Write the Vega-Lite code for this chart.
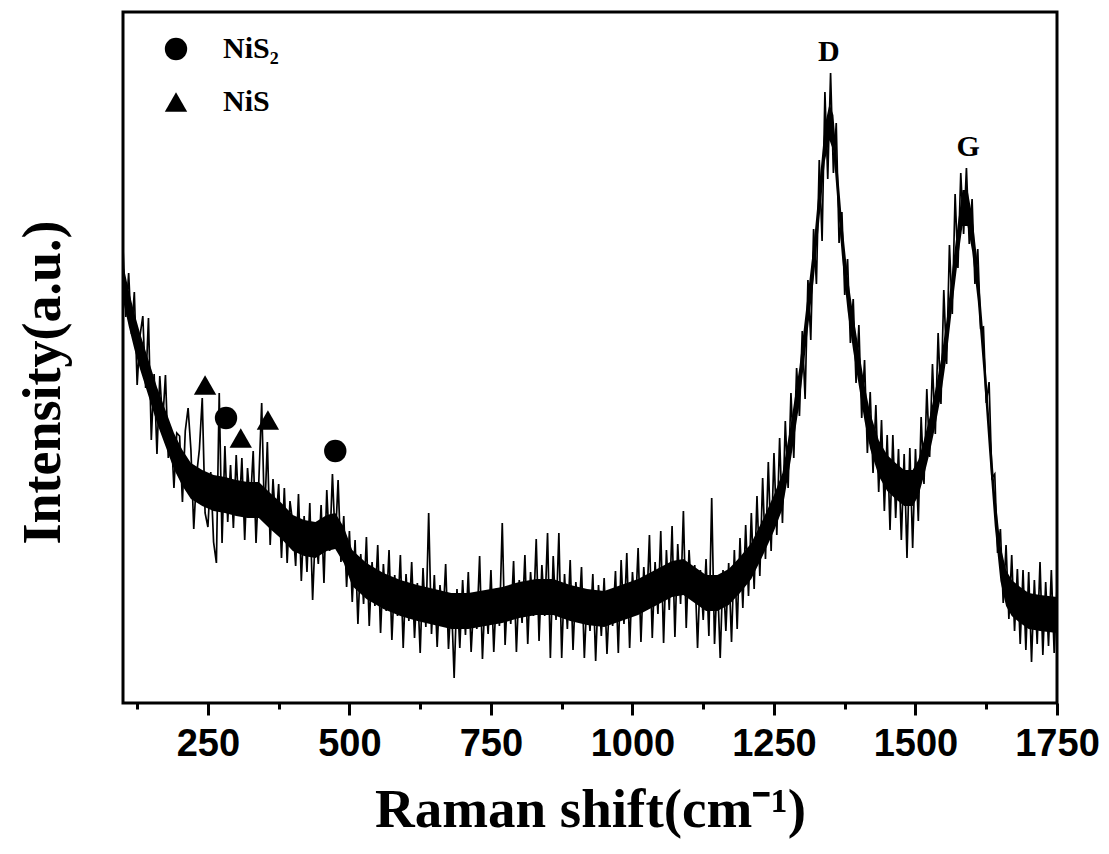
{
"$schema": "https://vega.github.io/schema/vega-lite/v6.json",
"width": 934, "height": 691,
"autosize": {"type": "none"},
"padding": {"left": 123, "top": 12, "right": 52, "bottom": 151},
"background": "white",
"config": {"view": {"stroke": "black", "strokeWidth": 3}, "axis": {"grid": false, "domain": false}},
"datasets": {
"core": [
{"shift":100,"lo":403,"hi":439},{"shift":110,"lo":377,"hi":413},{"shift":120,"lo":354,"hi":390},{"shift":130,"lo":334,"hi":370},{"shift":145,"lo":307,"hi":343},{"shift":160,"lo":280,"hi":316},{"shift":175,"lo":257,"hi":293},{"shift":190,"lo":234,"hi":270},{"shift":205,"lo":217,"hi":253},{"shift":220,"lo":204,"hi":240},
{"shift":240,"lo":197,"hi":233},{"shift":260,"lo":192,"hi":228},{"shift":280,"lo":190,"hi":226},{"shift":300,"lo":187,"hi":223},{"shift":320,"lo":185,"hi":221},{"shift":340,"lo":185,"hi":221},{"shift":360,"lo":174,"hi":210},{"shift":380,"lo":164,"hi":200},{"shift":400,"lo":152,"hi":188},{"shift":420,"lo":147,"hi":183},
{"shift":440,"lo":145,"hi":181},{"shift":460,"lo":152,"hi":188},{"shift":475,"lo":154,"hi":190},{"shift":490,"lo":140,"hi":176},{"shift":505,"lo":117,"hi":153},{"shift":530,"lo":104,"hi":140},{"shift":560,"lo":94,"hi":130},{"shift":590,"lo":87,"hi":123},{"shift":620,"lo":82,"hi":118},{"shift":650,"lo":78,"hi":114},
{"shift":680,"lo":74,"hi":110},{"shift":710,"lo":74,"hi":110},{"shift":740,"lo":77,"hi":113},{"shift":770,"lo":80,"hi":116},{"shift":800,"lo":85,"hi":121},{"shift":830,"lo":88,"hi":124},{"shift":860,"lo":88,"hi":124},{"shift":890,"lo":82,"hi":118},{"shift":920,"lo":78,"hi":114},{"shift":950,"lo":76,"hi":112},
{"shift":980,"lo":82,"hi":118},{"shift":1010,"lo":88,"hi":124},{"shift":1040,"lo":97,"hi":133},{"shift":1070,"lo":106,"hi":142},{"shift":1090,"lo":108,"hi":144},{"shift":1110,"lo":100,"hi":136},{"shift":1130,"lo":92,"hi":128},{"shift":1150,"lo":92,"hi":128},{"shift":1170,"lo":98,"hi":134},{"shift":1190,"lo":110,"hi":146},
{"shift":1210,"lo":124,"hi":160},{"shift":1230,"lo":147,"hi":183},{"shift":1250,"lo":172,"hi":208},{"shift":1265,"lo":194,"hi":230},{"shift":1280,"lo":244,"hi":280},{"shift":1295,"lo":300,"hi":336},{"shift":1310,"lo":374,"hi":410},{"shift":1320,"lo":422,"hi":458},{"shift":1330,"lo":482,"hi":518},{"shift":1340,"lo":542,"hi":578},
{"shift":1348,"lo":563,"hi":599},{"shift":1355,"lo":552,"hi":588},{"shift":1362,"lo":502,"hi":538},{"shift":1370,"lo":447,"hi":483},{"shift":1380,"lo":392,"hi":428},{"shift":1390,"lo":352,"hi":388},{"shift":1400,"lo":317,"hi":353},{"shift":1410,"lo":282,"hi":318},{"shift":1420,"lo":254,"hi":290},{"shift":1435,"lo":227,"hi":263},
{"shift":1450,"lo":212,"hi":248},{"shift":1465,"lo":204,"hi":240},{"shift":1480,"lo":197,"hi":233},{"shift":1495,"lo":197,"hi":233},{"shift":1505,"lo":207,"hi":243},{"shift":1515,"lo":227,"hi":263},{"shift":1525,"lo":250,"hi":286},{"shift":1535,"lo":277,"hi":313},{"shift":1545,"lo":307,"hi":343},{"shift":1555,"lo":347,"hi":383},
{"shift":1565,"lo":397,"hi":433},{"shift":1575,"lo":444,"hi":480},{"shift":1583,"lo":477,"hi":513},{"shift":1592,"lo":477,"hi":513},{"shift":1600,"lo":452,"hi":488},{"shift":1610,"lo":402,"hi":438},{"shift":1620,"lo":332,"hi":368},{"shift":1630,"lo":252,"hi":288},{"shift":1640,"lo":177,"hi":213},{"shift":1650,"lo":122,"hi":158},
{"shift":1660,"lo":97,"hi":133},{"shift":1670,"lo":87,"hi":123},{"shift":1685,"lo":80,"hi":116},{"shift":1700,"lo":74,"hi":110},{"shift":1720,"lo":72,"hi":108},{"shift":1750,"lo":70,"hi":106}
],
"spectrum": [
{"shift":100,"intensity":455},{"shift":105,"intensity":386},{"shift":110,"intensity":430},{"shift":115,"intensity":369},{"shift":120,"intensity":411},{"shift":125,"intensity":318},{"shift":130,"intensity":367},{"shift":135,"intensity":387},{"shift":140,"intensity":315},{"shift":145,"intensity":385},
{"shift":150,"intensity":263},{"shift":155,"intensity":329},{"shift":160,"intensity":249},{"shift":165,"intensity":327},{"shift":170,"intensity":280},{"shift":175,"intensity":328},{"shift":180,"intensity":245},{"shift":185,"intensity":272},{"shift":190,"intensity":215},{"shift":195,"intensity":270},
{"shift":200,"intensity":267},{"shift":205,"intensity":201},{"shift":210,"intensity":272},{"shift":215,"intensity":295},{"shift":220,"intensity":253},{"shift":225,"intensity":174},{"shift":230,"intensity":228},{"shift":235,"intensity":254},{"shift":240,"intensity":305},{"shift":245,"intensity":190},
{"shift":250,"intensity":176},{"shift":255,"intensity":231},{"shift":260,"intensity":161},{"shift":265,"intensity":140},{"shift":270,"intensity":310},{"shift":275,"intensity":160},{"shift":280,"intensity":257},{"shift":285,"intensity":181},{"shift":290,"intensity":238},{"shift":295,"intensity":175},
{"shift":300,"intensity":248},{"shift":305,"intensity":188},{"shift":310,"intensity":245},{"shift":315,"intensity":163},{"shift":320,"intensity":235},{"shift":325,"intensity":198},{"shift":330,"intensity":252},{"shift":335,"intensity":160},{"shift":340,"intensity":223},{"shift":345,"intensity":300},
{"shift":350,"intensity":184},{"shift":355,"intensity":261},{"shift":360,"intensity":158},{"shift":365,"intensity":224},{"shift":370,"intensity":178},{"shift":375,"intensity":219},{"shift":380,"intensity":145},{"shift":385,"intensity":215},{"shift":390,"intensity":140},{"shift":395,"intensity":202},
{"shift":400,"intensity":179},{"shift":405,"intensity":137},{"shift":410,"intensity":209},{"shift":415,"intensity":122},{"shift":420,"intensity":187},{"shift":425,"intensity":131},{"shift":430,"intensity":200},{"shift":435,"intensity":103},{"shift":440,"intensity":175},{"shift":445,"intensity":139},
{"shift":450,"intensity":198},{"shift":455,"intensity":120},{"shift":460,"intensity":213},{"shift":465,"intensity":152},{"shift":470,"intensity":229},{"shift":475,"intensity":160},{"shift":480,"intensity":223},{"shift":485,"intensity":141},{"shift":490,"intensity":187},{"shift":495,"intensity":116},
{"shift":500,"intensity":172},{"shift":505,"intensity":101},{"shift":510,"intensity":163},{"shift":515,"intensity":79},{"shift":520,"intensity":149},{"shift":525,"intensity":99},{"shift":530,"intensity":166},{"shift":535,"intensity":77},{"shift":540,"intensity":141},{"shift":545,"intensity":97},
{"shift":550,"intensity":158},{"shift":555,"intensity":70},{"shift":560,"intensity":139},{"shift":565,"intensity":92},{"shift":570,"intensity":153},{"shift":575,"intensity":63},{"shift":580,"intensity":128},{"shift":585,"intensity":87},{"shift":590,"intensity":148},{"shift":595,"intensity":55},
{"shift":600,"intensity":129},{"shift":605,"intensity":82},{"shift":610,"intensity":141},{"shift":615,"intensity":65},{"shift":620,"intensity":120},{"shift":625,"intensity":50},{"shift":630,"intensity":135},{"shift":635,"intensity":76},{"shift":640,"intensity":190},{"shift":645,"intensity":69},
{"shift":650,"intensity":128},{"shift":655,"intensity":56},{"shift":660,"intensity":118},{"shift":665,"intensity":80},{"shift":670,"intensity":139},{"shift":675,"intensity":54},{"shift":680,"intensity":106},{"shift":685,"intensity":25},{"shift":690,"intensity":114},{"shift":695,"intensity":55},
{"shift":700,"intensity":123},{"shift":705,"intensity":68},{"shift":710,"intensity":131},{"shift":715,"intensity":51},{"shift":720,"intensity":105},{"shift":725,"intensity":74},{"shift":730,"intensity":147},{"shift":735,"intensity":44},{"shift":740,"intensity":112},{"shift":745,"intensity":69},
{"shift":750,"intensity":133},{"shift":755,"intensity":51},{"shift":760,"intensity":115},{"shift":765,"intensity":77},{"shift":770,"intensity":180},{"shift":775,"intensity":58},{"shift":780,"intensity":117},{"shift":785,"intensity":79},{"shift":790,"intensity":142},{"shift":795,"intensity":51},
{"shift":800,"intensity":123},{"shift":805,"intensity":80},{"shift":810,"intensity":148},{"shift":815,"intensity":59},{"shift":820,"intensity":131},{"shift":825,"intensity":87},{"shift":830,"intensity":164},{"shift":835,"intensity":62},{"shift":840,"intensity":138},{"shift":845,"intensity":87},
{"shift":850,"intensity":170},{"shift":855,"intensity":45},{"shift":860,"intensity":147},{"shift":865,"intensity":83},{"shift":870,"intensity":170},{"shift":875,"intensity":45},{"shift":880,"intensity":129},{"shift":885,"intensity":74},{"shift":890,"intensity":143},{"shift":895,"intensity":53},
{"shift":900,"intensity":121},{"shift":905,"intensity":84},{"shift":910,"intensity":136},{"shift":915,"intensity":45},{"shift":920,"intensity":111},{"shift":925,"intensity":72},{"shift":930,"intensity":129},{"shift":935,"intensity":42},{"shift":940,"intensity":118},{"shift":945,"intensity":67},
{"shift":950,"intensity":125},{"shift":955,"intensity":49},{"shift":960,"intensity":111},{"shift":965,"intensity":77},{"shift":970,"intensity":132},{"shift":975,"intensity":50},{"shift":980,"intensity":143},{"shift":985,"intensity":79},{"shift":990,"intensity":150},{"shift":995,"intensity":55},
{"shift":1000,"intensity":131},{"shift":1005,"intensity":88},{"shift":1010,"intensity":155},{"shift":1015,"intensity":61},{"shift":1020,"intensity":136},{"shift":1025,"intensity":93},{"shift":1030,"intensity":168},{"shift":1035,"intensity":65},{"shift":1040,"intensity":141},{"shift":1045,"intensity":89},
{"shift":1050,"intensity":172},{"shift":1055,"intensity":60},{"shift":1060,"intensity":153},{"shift":1065,"intensity":93},{"shift":1070,"intensity":177},{"shift":1075,"intensity":66},{"shift":1080,"intensity":159},{"shift":1085,"intensity":99},{"shift":1090,"intensity":192},{"shift":1095,"intensity":75},
{"shift":1100,"intensity":153},{"shift":1105,"intensity":103},{"shift":1110,"intensity":138},{"shift":1115,"intensity":55},{"shift":1120,"intensity":133},{"shift":1125,"intensity":83},{"shift":1130,"intensity":144},{"shift":1135,"intensity":67},{"shift":1140,"intensity":205},{"shift":1145,"intensity":59},
{"shift":1150,"intensity":127},{"shift":1155,"intensity":45},{"shift":1160,"intensity":133},{"shift":1165,"intensity":72},{"shift":1170,"intensity":140},{"shift":1175,"intensity":61},{"shift":1180,"intensity":153},{"shift":1185,"intensity":74},{"shift":1190,"intensity":165},{"shift":1195,"intensity":95},
{"shift":1200,"intensity":178},{"shift":1205,"intensity":107},{"shift":1210,"intensity":190},{"shift":1215,"intensity":114},{"shift":1220,"intensity":207},{"shift":1225,"intensity":127},{"shift":1230,"intensity":225},{"shift":1235,"intensity":144},{"shift":1240,"intensity":241},{"shift":1245,"intensity":152},
{"shift":1250,"intensity":250},{"shift":1255,"intensity":168},{"shift":1260,"intensity":265},{"shift":1265,"intensity":180},{"shift":1270,"intensity":282},{"shift":1275,"intensity":215},{"shift":1280,"intensity":310},{"shift":1285,"intensity":245},{"shift":1290,"intensity":335},{"shift":1295,"intensity":287},
{"shift":1300,"intensity":372},{"shift":1305,"intensity":304},{"shift":1310,"intensity":423},{"shift":1315,"intensity":363},{"shift":1320,"intensity":474},{"shift":1325,"intensity":419},{"shift":1330,"intensity":543},{"shift":1335,"intensity":462},{"shift":1340,"intensity":611},{"shift":1345,"intensity":524},
{"shift":1350,"intensity":630},{"shift":1355,"intensity":530},{"shift":1360,"intensity":580},{"shift":1365,"intensity":460},{"shift":1370,"intensity":491},{"shift":1375,"intensity":408},{"shift":1380,"intensity":444},{"shift":1385,"intensity":360},{"shift":1390,"intensity":404},{"shift":1395,"intensity":320},
{"shift":1400,"intensity":378},{"shift":1405,"intensity":285},{"shift":1410,"intensity":343},{"shift":1415,"intensity":250},{"shift":1420,"intensity":311},{"shift":1425,"intensity":230},{"shift":1430,"intensity":298},{"shift":1435,"intensity":211},{"shift":1440,"intensity":283},{"shift":1445,"intensity":192},
{"shift":1450,"intensity":268},{"shift":1455,"intensity":173},{"shift":1460,"intensity":268},{"shift":1465,"intensity":185},{"shift":1470,"intensity":254},{"shift":1475,"intensity":163},{"shift":1480,"intensity":249},{"shift":1485,"intensity":145},{"shift":1490,"intensity":255},{"shift":1495,"intensity":155},
{"shift":1500,"intensity":254},{"shift":1505,"intensity":182},{"shift":1510,"intensity":286},{"shift":1515,"intensity":219},{"shift":1520,"intensity":314},{"shift":1525,"intensity":246},{"shift":1530,"intensity":339},{"shift":1535,"intensity":269},{"shift":1540,"intensity":370},{"shift":1545,"intensity":299},
{"shift":1550,"intensity":413},{"shift":1555,"intensity":339},{"shift":1560,"intensity":458},{"shift":1565,"intensity":389},{"shift":1570,"intensity":509},{"shift":1575,"intensity":435},{"shift":1580,"intensity":530},{"shift":1585,"intensity":469},{"shift":1590,"intensity":535},{"shift":1595,"intensity":459},
{"shift":1600,"intensity":504},{"shift":1605,"intensity":419},{"shift":1610,"intensity":454},{"shift":1615,"intensity":375},{"shift":1620,"intensity":376},{"shift":1625,"intensity":300},{"shift":1630,"intensity":321},{"shift":1635,"intensity":225},{"shift":1640,"intensity":229},{"shift":1645,"intensity":150},
{"shift":1650,"intensity":174},{"shift":1655,"intensity":100},{"shift":1660,"intensity":158},{"shift":1665,"intensity":84},{"shift":1670,"intensity":148},{"shift":1675,"intensity":72},{"shift":1680,"intensity":134},{"shift":1685,"intensity":59},{"shift":1690,"intensity":133},{"shift":1695,"intensity":53},
{"shift":1700,"intensity":131},{"shift":1705,"intensity":41},{"shift":1710,"intensity":123},{"shift":1715,"intensity":59},{"shift":1720,"intensity":141},{"shift":1725,"intensity":48},{"shift":1730,"intensity":121},{"shift":1735,"intensity":57},{"shift":1740,"intensity":133},{"shift":1745,"intensity":50},
{"shift":1750,"intensity":115}
],
"bands": [
{"shift":282,"intensity":285,"phase":"NiS₂"},
{"shift":475,"intensity":252,"phase":"NiS₂"},
{"shift":245,"intensity":318,"phase":"NiS"},
{"shift":308,"intensity":265,"phase":"NiS"},
{"shift":356,"intensity":283,"phase":"NiS"}
],
"peaks": [
{"shift":1347,"intensity":651,"label":"D"},
{"shift":1593,"intensity":556,"label":"G"}
]
},
"layer": [
{
"data": {"name": "core"},
"mark": {"type": "area", "color": "black", "opacity": 1},
"encoding": {
"x": {"field": "shift", "type": "quantitative", "scale": {"domain": [100, 1750], "nice": false, "zero": false}},
"y": {"field": "lo", "type": "quantitative", "scale": {"domain": [0, 691], "nice": false, "zero": false}},
"y2": {"field": "hi"}
}
},
{
"data": {"name": "spectrum"},
"mark": {"type": "line", "color": "black", "strokeWidth": 1.7},
"encoding": {
"x": {"field": "shift", "type": "quantitative",
 "scale": {"domain": [100, 1750], "nice": false, "zero": false},
 "axis": {
  "values": [125,250,375,500,625,750,875,1000,1125,1250,1375,1500,1625,1750],
  "format": "d",
  "labelExpr": "datum.value % 250 === 0 ? datum.label : ''",
  "tickSize": {"condition": {"test": "datum.value % 250 === 0", "value": 12}, "value": 6},
  "tickWidth": 3, "tickColor": "black",
  "labelFont": "Liberation Sans", "labelFontWeight": "bold", "labelFontSize": 38, "labelColor": "black",
  "labelPadding": 10, "labelFlush": false, "labelOverlap": false, "labelBound": false,
  "title": "Raman shift(cm⁻¹)",
  "titleFont": "Liberation Serif", "titleFontWeight": "bold", "titleFontSize": 55, "titleColor": "black",
  "titlePadding": 20
 }},
"y": {"field": "intensity", "type": "quantitative",
 "scale": {"domain": [0, 691], "nice": false, "zero": false},
 "axis": {
  "labels": false, "ticks": false, "domain": false,
  "title": "Intensity(a.u.)",
  "titleFont": "Liberation Serif", "titleFontWeight": "bold", "titleFontSize": 54, "titleColor": "black",
  "titlePadding": 53, "titleY": 370
 }}
}
},
{
"data": {"name": "bands"},
"mark": {"type": "point", "filled": true, "color": "black", "opacity": 1, "size": 500},
"encoding": {
"x": {"field": "shift", "type": "quantitative"},
"y": {"field": "intensity", "type": "quantitative"},
"shape": {"field": "phase", "type": "nominal",
 "scale": {"domain": ["NiS₂", "NiS"], "range": ["circle", "triangle-up"]},
 "legend": {
  "orient": "none", "legendX": 38, "legendY": 22, "title": null, "padding": 0,
  "labelFont": "Liberation Serif", "labelFontWeight": "bold", "labelFontSize": 30, "labelColor": "black",
  "symbolSize": 500, "symbolFillColor": "black", "symbolStrokeColor": "black", "symbolStrokeWidth": 0,
  "rowPadding": 23, "labelOffset": 32
 }}
}
},
{
"data": {"name": "peaks"},
"mark": {"type": "text", "font": "Liberation Serif", "fontWeight": "bold", "fontSize": 30, "color": "black", "baseline": "middle"},
"encoding": {
"x": {"field": "shift", "type": "quantitative"},
"y": {"field": "intensity", "type": "quantitative"},
"text": {"field": "label"}
}
}
]
}
